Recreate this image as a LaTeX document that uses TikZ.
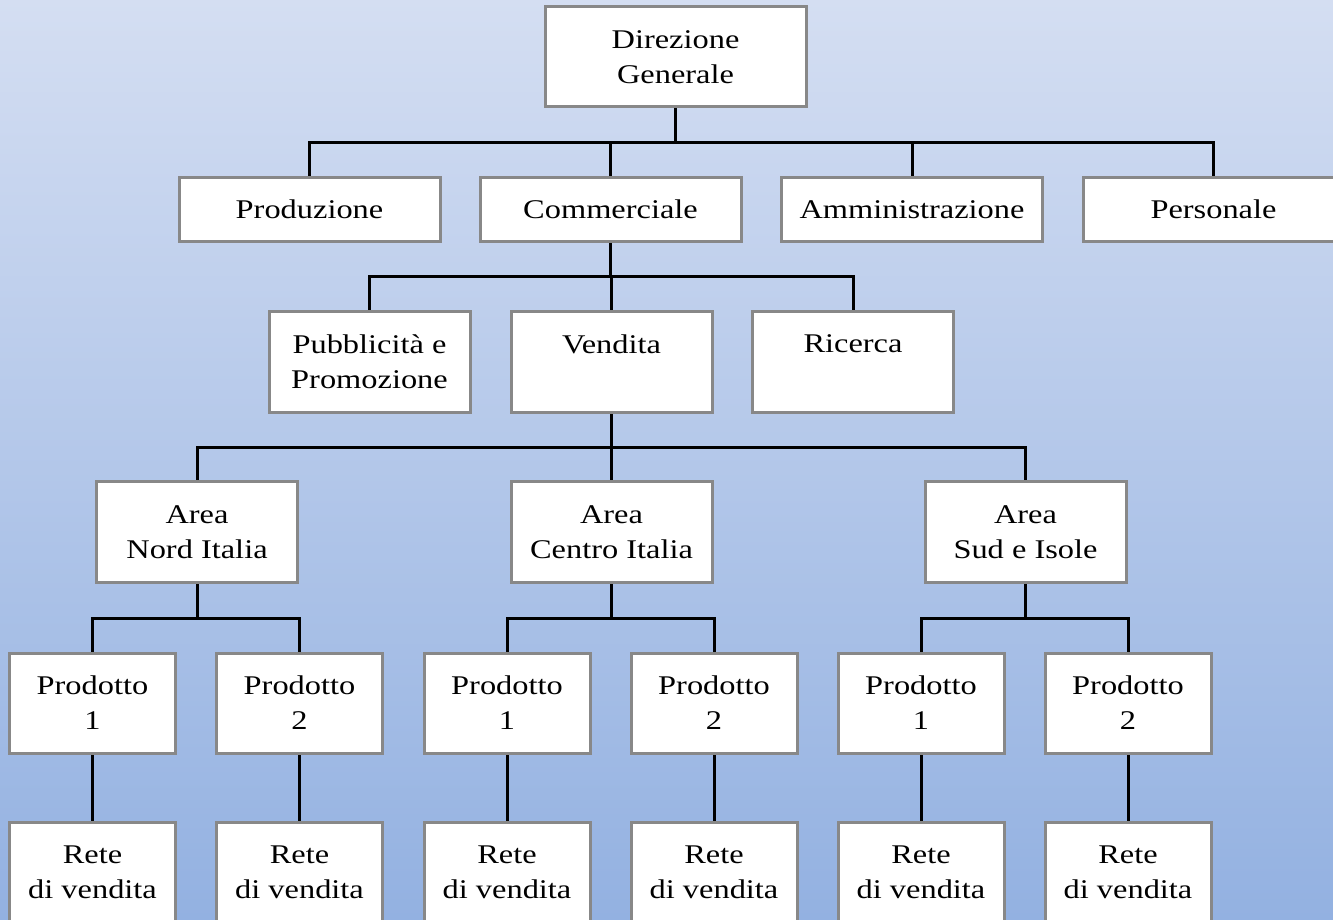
\documentclass[tikz,border=0pt]{standalone}
\usepackage{fontspec}
\setmainfont{Liberation Serif}[FakeStretch=1.2]
\pgfdeclarelayer{back}
\pgfdeclarelayer{lines}
\pgfsetlayers{back,lines,main}
\definecolor{bgtop}{HTML}{D4DEF2}
\definecolor{bgbot}{HTML}{93B1E1}
\definecolor{boxline}{HTML}{888888}
\tikzset{
  orgbox/.style={draw=boxline, fill=white, line width=3pt, inner sep=0pt, align=center,
    font=\fontsize{27}{35}\selectfont, text=black},
  wide/.style={orgbox, minimum width=261pt},
  mid/.style={orgbox, minimum width=201pt, minimum height=101pt},
  small/.style={orgbox, minimum width=166pt, minimum height=100pt},
  conn/.style={line width=3pt, draw=black}
}
\begin{document}
\begin{tikzpicture}[x=1pt,y=-1pt]
\useasboundingbox (0,0) rectangle (1333,920);
\clip (0,0) rectangle (1333,920);
\begin{pgfonlayer}{back}
\shade[top color=bgtop, bottom color=bgbot] (0,0) rectangle (1333,920);
\end{pgfonlayer}
% nodes
\node[wide, minimum height=100pt] (dg) at (675.5,57) {Direzione\\Generale};
\node[wide, minimum height=63pt] (prod) at (309.5,209.5) {Produzione};
\node[wide, minimum height=63pt] (comm) at (610.5,209.5) {Commerciale};
\node[wide, minimum height=63pt] (amm) at (912,209.5) {Amministrazione};
\node[wide, minimum height=63pt] (pers) at (1213.5,209.5) {Personale};
\node[mid] (pub) at (369.5,361.5) {Pubblicità e\\Promozione};
\node[mid] (ven) at (611.5,361.5) {Vendita\\\phantom{V}};
\node[mid] (ric) at (853,361.5) {Ricerca\\\phantom{R}};
\node[mid] (an) at (197,532) {Area\\Nord Italia};
\node[mid] (ac) at (611.5,532) {Area\\Centro Italia};
\node[mid] (as) at (1025.5,532) {Area\\Sud e Isole};
\foreach \n/\x/\k in {p1/92.5/1, p2/299.5/2, p3/507/1, p4/714/2, p5/921/1, p6/1128/2}{
  \node[small] (\n) at (\x,703) {Prodotto\\\k};
}
\foreach \n/\x in {r1/92.5, r2/299.5, r3/507, r4/714, r5/921, r6/1128}{
  \node[small] (\n) at (\x,872) {Rete\\di vendita};
}
\coordinate (b1) at (675.5,143);
\coordinate (b2) at (610.5,276);
\coordinate (b3) at (611.5,447);
\coordinate (b4n) at (197,618);
\coordinate (b4c) at (611.5,618);
\coordinate (b4s) at (1025.5,618);
\begin{pgfonlayer}{lines}
\draw[conn] (dg.south) -- (b1);
\draw[conn] (prod.north) -- (prod.north |- b1) -- (pers.north |- b1) -- (pers.north);
\draw[conn] (comm.north) -- (comm.north |- b1);
\draw[conn] (amm.north) -- (amm.north |- b1);
\draw[conn] (comm.south) -- (b2);
\draw[conn] (pub.north) -- (pub.north |- b2) -- (ric.north |- b2) -- (ric.north);
\draw[conn] (ven.north) -- (ven.north |- b2);
\draw[conn] (ven.south) -- (b3);
\draw[conn] (an.north) -- (an.north |- b3) -- (as.north |- b3) -- (as.north);
\draw[conn] (ac.north) -- (ac.north |- b3);
\draw[conn] (an.south) -- (b4n);
\draw[conn] (p1.north) -- (p1.north |- b4n) -- (p2.north |- b4n) -- (p2.north);
\draw[conn] (ac.south) -- (b4c);
\draw[conn] (p3.north) -- (p3.north |- b4c) -- (p4.north |- b4c) -- (p4.north);
\draw[conn] (as.south) -- (b4s);
\draw[conn] (p5.north) -- (p5.north |- b4s) -- (p6.north |- b4s) -- (p6.north);
\draw[conn] (p1) -- (r1);
\draw[conn] (p2) -- (r2);
\draw[conn] (p3) -- (r3);
\draw[conn] (p4) -- (r4);
\draw[conn] (p5) -- (r5);
\draw[conn] (p6) -- (r6);
\end{pgfonlayer}
\end{tikzpicture}
\end{document}
